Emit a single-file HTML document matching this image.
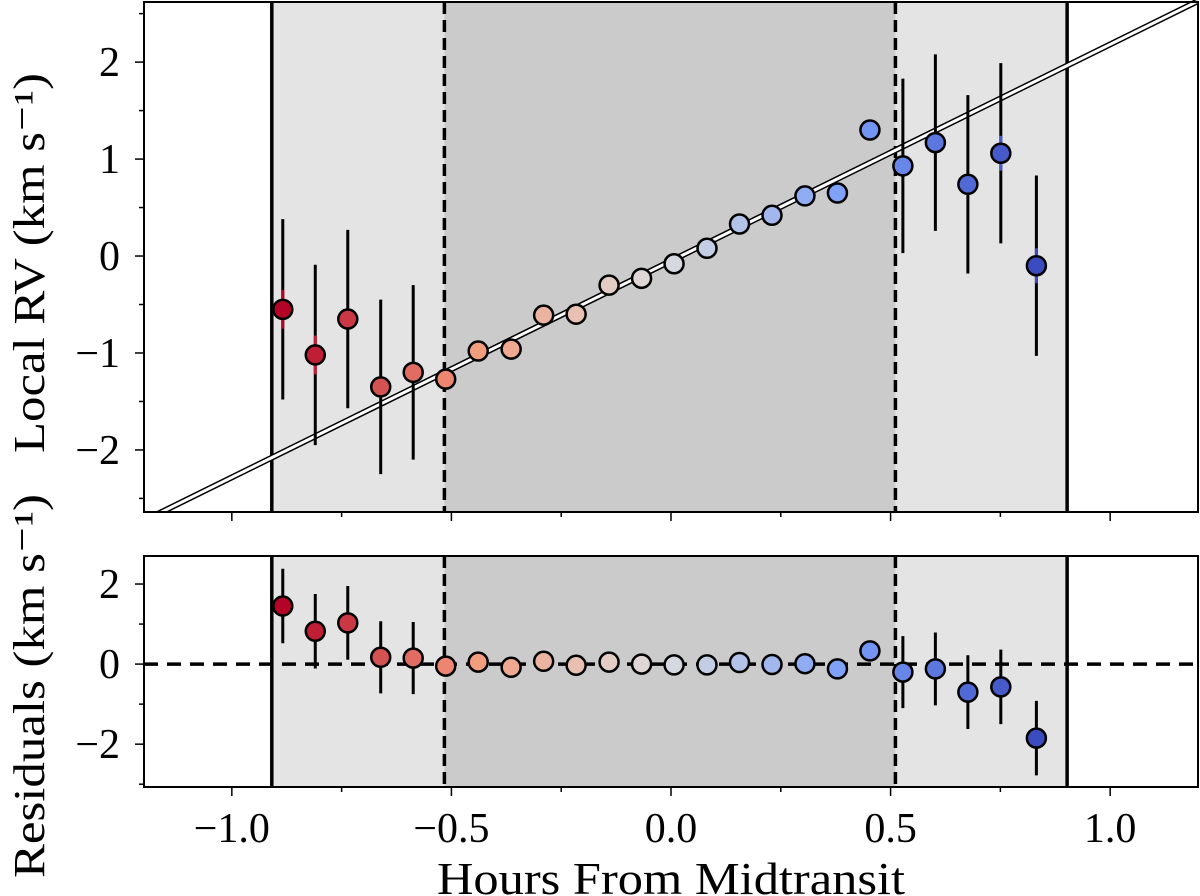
<!DOCTYPE html>
<html><head><meta charset="utf-8"><style>
html,body{margin:0;padding:0;background:#fff}
svg{display:block}
text{font-family:"Liberation Serif","DejaVu Serif",serif;fill:#000}
</style></head><body>
<svg id="chart" width="1200" height="896" viewBox="0 0 1200 896" xmlns="http://www.w3.org/2000/svg"></svg>
<script>
const hours = [-0.884,-0.810,-0.736,-0.661,-0.587,-0.513,-0.439,-0.364,-0.290,-0.216,-0.141,-0.067,0.007,0.082,0.156,0.230,0.305,0.379,0.453,0.528,0.602,0.676,0.751,0.832];
const localRV = [-0.55,-1.02,-0.65,-1.35,-1.20,-1.27,-0.98,-0.96,-0.61,-0.60,-0.30,-0.23,-0.08,0.08,0.33,0.42,0.62,0.65,1.30,0.93,1.17,0.74,1.06,-0.10];
const rvErr = [0.93,0.93,0.92,0.90,0.90,0.06,0.06,0.06,0.06,0.06,0.06,0.06,0.06,0.06,0.06,0.06,0.06,0.06,0.07,0.90,0.91,0.92,0.93,0.93];
const innerErr = [0.2,0.2,0.05,0.04,0.04,0,0,0,0,0,0,0,0,0,0,0,0,0,0,0.03,0.04,0.04,0.18,0.18];
const residuals = [1.45,0.82,1.03,0.17,0.15,-0.05,0.05,-0.08,0.07,-0.03,0.05,0.00,-0.02,-0.02,0.04,-0.01,0.01,-0.12,0.33,-0.20,-0.12,-0.70,-0.57,-1.85];
const fitIntercept = -0.05;
const fitSlope = 2.233;
const xTicks = [-1.0,-0.5,0.0,0.5,1.0];
const xTickLabels = ["\u22121.0","\u22120.5","0.0","0.5","1.0"];
const topYTicks = [-2,-1,0,1,2];
const topYTickLabels = ["\u22122","\u22121","0","1","2"];
const botYTicks = [-2,0,2];
const botYTickLabels = ["\u22122","0","2"];
const transitEdges = [-0.909,0.902];
const fullTransit = [-0.516,0.511];

const NS="http://www.w3.org/2000/svg";
const svg=document.getElementById('chart');
function mk(tag,attrs,parent){const e=document.createElementNS(NS,tag);for(const k in attrs)e.setAttribute(k,attrs[k]);(parent||svg).appendChild(e);return e;}
const X0=144,X1=1198,XMIN=-1.2,XMAX=1.2;
const sx=v=>X0+(v-XMIN)/(XMAX-XMIN)*(X1-X0);
const topP={y0:2,y1:512,min:-2.64,max:2.62};
const botP={y0:556,y1:787,min:-3.07,max:2.7};
const syF=p=>v=>p.y1-(v-p.min)/(p.max-p.min)*(p.y1-p.y0);
const syT=syF(topP), syB=syF(botP);

const cw=[[59,76,192],[123,159,249],[221,221,221],[244,154,123],[180,4,38]];
function color(t){const s=t*4,i=Math.min(3,Math.floor(s)),f=s-i;const a=cw[i],b=cw[i+1];return `rgb(${a.map((c,k)=>Math.round(c+(b[k]-c)*f)).join(',')})`;}
const n=hours.length;

function panel(p,sy,name){
  const g=mk('g',{});
  
  
  mk('rect',{x:sx(transitEdges[0]),y:p.y0,width:sx(transitEdges[1])-sx(transitEdges[0]),height:p.y1-p.y0,fill:'#e4e4e4'},g);
  mk('rect',{x:sx(fullTransit[0]),y:p.y0,width:sx(fullTransit[1])-sx(fullTransit[0]),height:p.y1-p.y0,fill:'#cbcbcb'},g);
  transitEdges.forEach(v=>{const l=mk('line',{x1:sx(v),x2:sx(v),y1:p.y0,y2:p.y1,stroke:'#000','stroke-width':3.5},g);
    
    });
  fullTransit.forEach(v=>{const l=mk('line',{x1:sx(v),x2:sx(v),y1:p.y0,y2:p.y1,stroke:'#000','stroke-width':3.5,'stroke-dasharray':'12,6'},g);
    
    });
  return g;
}
function axes(p,sy,yt,ytl,minorY,name){
  const g=mk('g',{});
  
  
  mk('rect',{x:X0,y:p.y0,width:X1-X0,height:p.y1-p.y0,fill:'none',stroke:'#000','stroke-width':2},g);
  for(let k=-4;k<=4;k++){const v=k*0.25;mk('line',{x1:sx(v),x2:sx(v),y1:p.y1,y2:p.y1+(k%2===0?9:5),stroke:'#000','stroke-width':1.5},g);}
  minorY.forEach(v=>mk('line',{x1:X0-5,x2:X0,y1:sy(v),y2:sy(v),stroke:'#000','stroke-width':1.5},g));
  yt.forEach((v,i)=>{mk('line',{x1:X0-9,x2:X0,y1:sy(v),y2:sy(v),stroke:'#000','stroke-width':1.5},g);
    const t=mk('text',{x:X0-24,y:sy(v)+14,'text-anchor':'end','font-size':42},g);t.textContent=ytl[i];
    
    });
}
function points(sy,vals,name){
  const g=mk('g',{});
  
  
  for(let i=0;i<n;i++){
    const c=color(1-i/(n-1)),x=sx(hours[i]);
    mk('line',{x1:x,x2:x,y1:sy(vals[i]-rvErr[i]),y2:sy(vals[i]+rvErr[i]),stroke:'#000','stroke-width':3},g);
    if(innerErr[i]>0) mk('line',{x1:x,x2:x,y1:sy(vals[i]-innerErr[i]),y2:sy(vals[i]+innerErr[i]),stroke:c,'stroke-width':3},g);
    const cc=mk('circle',{cx:x,cy:sy(vals[i]),r:9.5,fill:c,stroke:'#000','stroke-width':2.5},g);
    
    
  }
}
panel(topP,syT,'top-panel-background');
const fx1=-1.2,fx2=1.2;
const fl=mk('g',{});


mk('line',{x1:sx(fx1),y1:syT(fitIntercept+fitSlope*fx1),x2:sx(fx2),y2:syT(fitIntercept+fitSlope*fx2),stroke:'#000','stroke-width':6},fl);
mk('line',{x1:sx(fx1),y1:syT(fitIntercept+fitSlope*fx1),x2:sx(fx2),y2:syT(fitIntercept+fitSlope*fx2),stroke:'#fff','stroke-width':3},fl);
points(syT,localRV,'local-rv-points');
mk('rect',{x:0,y:513,width:1200,height:42,fill:'#fff'});
mk('rect',{x:0,y:0,width:143,height:520,fill:'#fff'});
mk('rect',{x:1199,y:0,width:1,height:520,fill:'#fff'});
axes(topP,syT,topYTicks,topYTickLabels,[-2.5,-1.5,-0.5,0.5,1.5,2.5],'top-axes');

panel(botP,syB,'bottom-panel-background');
const zl=mk('line',{x1:X0,x2:X1,y1:syB(0),y2:syB(0),stroke:'#000','stroke-width':3.5,'stroke-dasharray':'14,9'});


points(syB,residuals,'residual-points');
axes(botP,syB,botYTicks,botYTickLabels,[-3,-1,1],'bottom-axes');
xTicks.forEach((v,i)=>{const t=mk('text',{x:sx(v),y:842,'text-anchor':'middle','font-size':42});t.textContent=xTickLabels[i];
  
  });
const xl=mk('text',{x:671,y:894,'text-anchor':'middle','font-size':46,textLength:468,lengthAdjust:'spacingAndGlyphs'});xl.textContent='Hours From Midtransit';


const yl1=mk('text',{x:0,y:0,'text-anchor':'middle','font-size':44,textLength:380,lengthAdjust:'spacingAndGlyphs',transform:'translate(44,263) rotate(-90)'});
yl1.textContent='Local RV (km s\u207B\u00B9)';


const yl2=mk('text',{x:0,y:0,'text-anchor':'middle','font-size':44,textLength:384,lengthAdjust:'spacingAndGlyphs',transform:'translate(44,686) rotate(-90)'});
yl2.textContent='Residuals (km s\u207B\u00B9)';


</script>
</body></html>
